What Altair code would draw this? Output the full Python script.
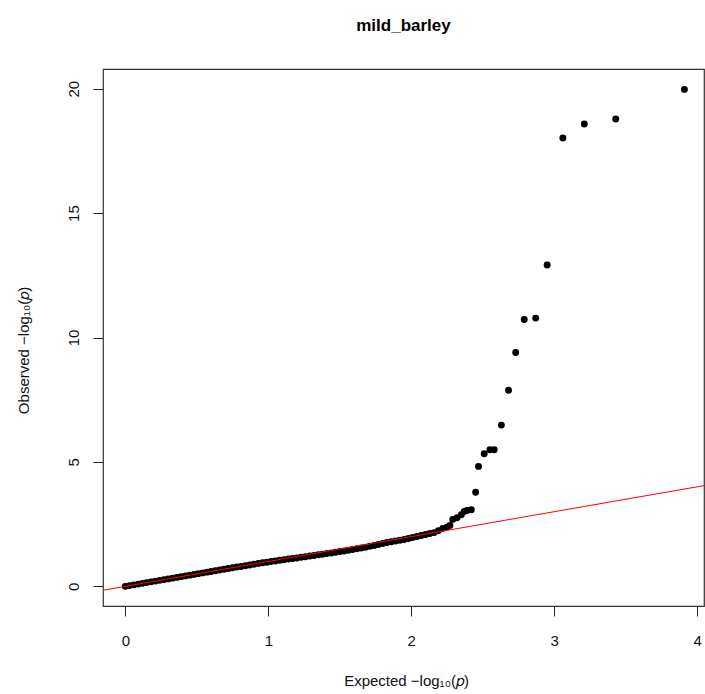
import altair as alt
import pandas as pd

chart_title = "mild_barley"
x_title = "Expected \u2212log\u2081\u2080(\U0001D45D)"
y_title = "Observed \u2212log\u2081\u2080(\U0001D45D)"

expected = [
    0.00, 0.03, 0.06, 0.09, 0.12, 0.15, 0.18, 0.21, 0.24, 0.27,
    0.30, 0.33, 0.36, 0.39, 0.42, 0.45, 0.48, 0.51, 0.54, 0.57,
    0.60, 0.63, 0.66, 0.69, 0.72, 0.75, 0.78, 0.81, 0.84, 0.87,
    0.90, 0.93, 0.96, 0.99, 1.02, 1.05, 1.08, 1.11, 1.14, 1.17,
    1.20, 1.23, 1.26, 1.29, 1.32, 1.35, 1.38, 1.41, 1.44, 1.47,
    1.50, 1.53, 1.56, 1.59, 1.62, 1.65, 1.68, 1.71, 1.74, 1.77,
    1.80, 1.83, 1.86, 1.89, 1.92, 1.95, 1.98, 2.01, 2.04, 2.07,
    2.10, 2.13, 2.16, 2.19, 2.22, 2.25, 2.27, 2.29, 2.32, 2.35,
    2.37, 2.39, 2.42, 2.45, 2.47, 2.51, 2.55, 2.58, 2.63, 2.68,
    2.73, 2.79, 2.87, 2.95, 3.06, 3.21, 3.43, 3.91,
]
observed = [
    0.00, 0.03, 0.06, 0.09, 0.12, 0.15, 0.18, 0.21, 0.24, 0.27,
    0.30, 0.33, 0.36, 0.39, 0.42, 0.45, 0.48, 0.51, 0.54, 0.57,
    0.60, 0.63, 0.66, 0.69, 0.72, 0.75, 0.78, 0.80, 0.83, 0.86,
    0.89, 0.92, 0.95, 0.97, 1.00, 1.02, 1.05, 1.07, 1.10, 1.12,
    1.14, 1.17, 1.19, 1.22, 1.24, 1.27, 1.29, 1.32, 1.34, 1.37,
    1.40, 1.42, 1.45, 1.48, 1.51, 1.54, 1.57, 1.61, 1.64, 1.68,
    1.72, 1.76, 1.79, 1.82, 1.85, 1.88, 1.92, 1.96, 2.00, 2.04,
    2.08, 2.12, 2.16, 2.24, 2.33, 2.38, 2.45, 2.69, 2.76, 2.88,
    3.01, 3.05, 3.08, 3.78, 4.82, 5.33, 5.49, 5.49, 6.48, 7.88,
    9.40, 10.72, 10.78, 12.91, 18.02, 18.58, 18.78, 19.97,
]

ref_x = [-1.0, 5.0]
ref_y = [-1.0, 5.0]

x_ticks = [0, 1, 2, 3, 4]
y_ticks = [0, 5, 10, 15, 20]

pts = pd.DataFrame({"expected": expected, "observed": observed})
ref = pd.DataFrame({"expected": ref_x, "observed": ref_y})

FONT = "Liberation Sans"

xs = alt.Scale(domain=[-0.156, 4.047], nice=False, zero=False)
ys = alt.Scale(domain=[-0.79, 20.79], nice=False, zero=False)

x_axis = alt.Axis(
    values=x_ticks, format="d", title=x_title, grid=False, domain=False,
    tickSize=10, tickColor="#222", tickWidth=1,
    labelFont=FONT, labelFontSize=15, labelColor="#111", labelPadding=17,
    labelBaseline="top", labelFlush=False, labelOverlap=False,
    titleFont=FONT, titleFontSize=15, titleFontWeight="normal", titleColor="#111",
    titleX=303, titleY=74, titleBaseline="middle", titleAnchor="middle",
)
y_axis = alt.Axis(
    values=y_ticks, format="d", title=y_title, grid=False, domain=False,
    tickSize=10, tickColor="#222", tickWidth=1,
    labelFont=FONT, labelFontSize=15, labelColor="#111", labelPadding=15,
    labelAngle=-90, labelAlign="center", labelBaseline="alphabetic",
    labelFlush=False, labelOverlap=False,
    titleFont=FONT, titleFontSize=15, titleFontWeight="normal", titleColor="#111",
    titleX=-80, titleY=281, titleBaseline="middle", titleAngle=-90, titleAnchor="middle",
)

points = alt.Chart(pts).mark_circle(size=48, color="#000", opacity=1).encode(
    x=alt.X("expected:Q", scale=xs, axis=x_axis),
    y=alt.Y("observed:Q", scale=ys, axis=y_axis),
)

line = alt.Chart(ref).mark_line(color="#FF0000", strokeWidth=1, clip=True).encode(
    x=alt.X("expected:Q", scale=xs),
    y=alt.Y("observed:Q", scale=ys),
)

chart = alt.layer(points, line).properties(
    width=601,
    height=537,
    title=alt.TitleParams(chart_title, font=FONT, fontSize=17, fontWeight="bold",
                          color="#000", anchor="middle", baseline="alphabetic", offset=21),
    autosize=alt.AutoSizeParams(type="none"),
    padding={"left": 103, "top": 69, "right": 1, "bottom": 88},
    view=alt.ViewBackground(stroke="#333333", strokeWidth=1.2, strokeOpacity=1),
).configure_view(stroke="#333333", strokeWidth=1.2).configure(background="white")

chart.save("out.html", embed_options={"renderer": "svg", "actions": False})
